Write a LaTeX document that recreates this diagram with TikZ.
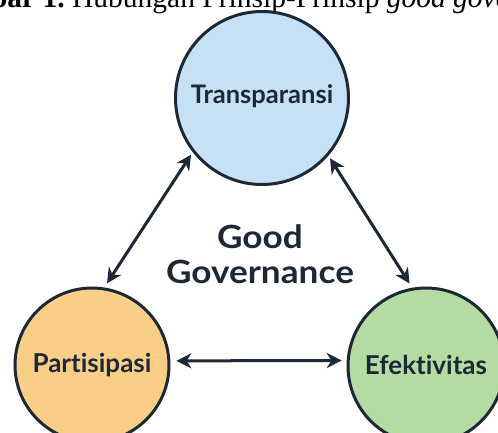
\documentclass[tikz,border=0pt]{standalone}
\usepackage{fontspec}
\setmainfont{Liberation Serif}
\newfontfamily\lato[Ligatures=NoCommon]{Lato}
\usetikzlibrary{arrows.meta}
\definecolor{ink}{HTML}{1C2835}
\definecolor{tblue}{HTML}{C6E1F5}
\definecolor{porange}{HTML}{F9CF88}
\definecolor{egreen}{HTML}{B4DBA2}
\tikzset{
  circ/.style={circle, draw=ink, line width=3pt, inner sep=0pt, text=ink, font=\lato\bfseries\fontsize{26}{28}\selectfont},
  arr/.style={ink, line width=3pt, {Stealth[length=15pt,width=15pt]}-{Stealth[length=15pt,width=15pt]}},
}
\begin{document}
\begin{tikzpicture}[x=1pt,y=-1pt]
\useasboundingbox[fill=white] (0,0) rectangle (498,432);
% caption (cropped at the top of the picture)
\node[anchor=base east, inner sep=0pt, font=\fontsize{29.5}{32}\selectfont] (cap1) at (65,7) {\textbf{Gambar 1.}};
\node[anchor=base west, inner sep=0pt, font=\fontsize{29.5}{32}\selectfont] (cap2) at (72,7) {Hubungan Prinsip-Prinsip \textit{good governance}};
% circles
\node[circ, fill=tblue, minimum size=173pt, font=\lato\bfseries\fontsize{25.5}{28}\selectfont] (T) at (262,98) {\raisebox{8pt}{Transparansi}};
\node[circ, fill=porange, minimum size=154pt] (L) at (92,365) {\raisebox{3pt}{Partisipasi}};
\node[circ, fill=egreen, minimum size=156pt] (R) at (426,366) {\raisebox{3pt}{Efektivitas}};
% centre label
\node[align=center, text=ink, xscale=1.1, font=\lato\bfseries\fontsize{32}{35}\selectfont] (G) at (260,254) {Good\\Governance};
% connectors
\draw[arr, shorten <=5pt, shorten >=3pt] (L.81) -- (T.218);
\draw[arr, shorten <=3pt, shorten >=5pt] (T.-41) -- (R.100);
\draw[arr, shorten <=6pt, shorten >=5pt] (L.3) -- (R.176);
\end{tikzpicture}
\end{document}
